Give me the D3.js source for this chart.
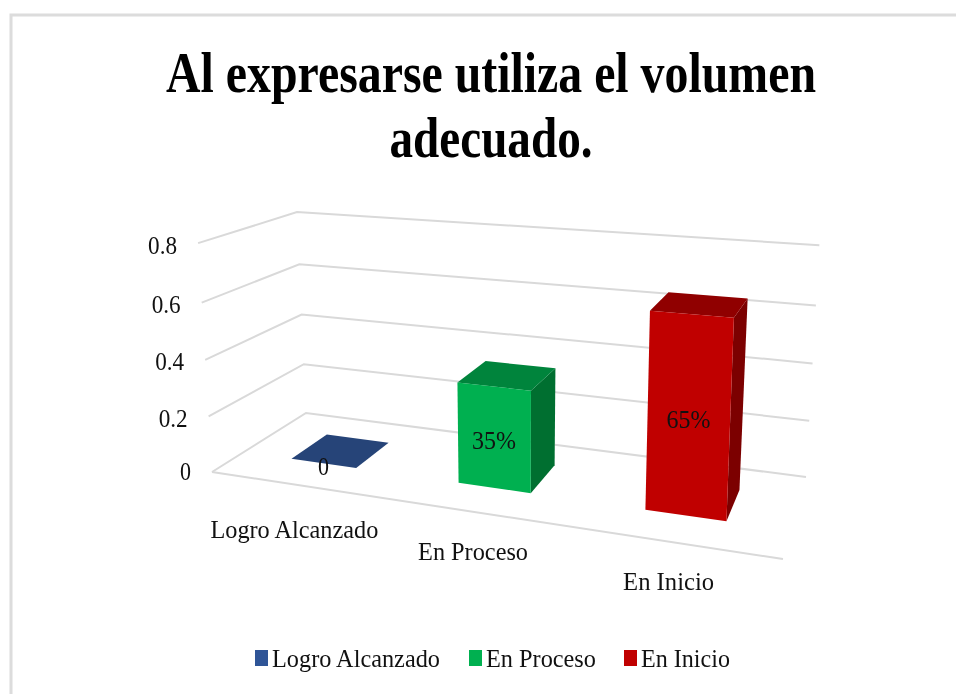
<!DOCTYPE html>
<html><head><meta charset="utf-8">
<script src="https://cdn.jsdelivr.net/npm/d3@7"></script>
<style>html,body{margin:0;padding:0;background:#fff}svg{display:block;filter:blur(0.45px)}text{font-family:"Liberation Serif","Times New Roman",serif;fill:#111}</style>
</head><body><div id="c"></div>
<script>
const categories = ["Logro Alcanzado","En Proceso","En Inicio"];
const values = [0,0.35,0.65];
const labels = ["0","35%","65%"];
const ticks = [0,0.2,0.4,0.6,0.8];
const tickLabels = ["0","0.2","0.4","0.6","0.8"];
const titleLines = ["Al expresarse utiliza el volumen","adecuado."];
const W=956,H=694;
const svg=d3.select("#c").append("svg").attr("width",W).attr("height",H);
svg.append("rect").attr("width",W).attr("height",H).attr("fill","#fff");
svg.append("path").attr("d","M11,694V15H956").attr("fill","none").attr("stroke","#dcdcdc").attr("stroke-width",3);

// projective map of unit square to the floor quad
function homography(p00,p10,p11,p01){
  const dx1=p10[0]-p11[0],dx2=p01[0]-p11[0],sx=p00[0]-p10[0]+p11[0]-p01[0];
  const dy1=p10[1]-p11[1],dy2=p01[1]-p11[1],sy=p00[1]-p10[1]+p11[1]-p01[1];
  const den=dx1*dy2-dx2*dy1;
  const g=(sx*dy2-dx2*sy)/den,h=(dx1*sy-sx*dy1)/den;
  const a=p10[0]-p00[0]+g*p10[0],b=p01[0]-p00[0]+h*p01[0],c=p00[0];
  const d=p10[1]-p00[1]+g*p10[1],e=p01[1]-p00[1]+h*p01[1],f=p00[1];
  return (u,z)=>{const w=g*u+h*z+1;return [(a*u+b*z+c)/w,(d*u+e*z+f)/w];};
}
const floor=homography([212,472],[783,559],[806,477],[306,413]);
const yScale=d3.scaleLinear().domain([0,0.2,0.4,0.6,0.8]).range([0,0.243,0.49,0.74,1]);
const xBand=d3.scaleBand().domain(categories).range([0,1]).paddingInner(0.6).paddingOuter(0.305);
const zBand=d3.scaleBand().domain(["s"]).range([0.02,1]).padding(0.42);
// a point of the 3D box: floor position plus a vertical lift that grows toward the viewer
function P(u,z,v){
  const a=floor(u,z),t=yScale(v);
  return [a[0]+t*(0.046*a[0]-0.01*a[1]-18.95), a[1]+t*(-0.001*a[0]-0.476*a[1]-4)];
}
const line=d3.line();

ticks.forEach(t=>{
  svg.append("path").attr("d",line([P(0,0,t),P(0,1,t),P(1,1,t)])).attr("fill","none").attr("stroke","#d9d9d9").attr("stroke-width",2);
});
svg.append("path").attr("d",line([P(0,0,0),P(1,0,0)])).attr("fill","none").attr("stroke","#d9d9d9").attr("stroke-width",2);

// text placed at a fixed width by a horizontal scale (the reference type is condensed)
function fit(x,y,s,size,width,anchor,bold){
  const t=svg.append("text").attr("font-size",size).attr("text-anchor",anchor).text(s);
  if(bold) t.attr("font-weight","bold").style("fill","#000");
  const sx=width/t.node().getComputedTextLength();
  t.attr("transform",`translate(${x},${y}) scale(${sx},1)`);
  return t;
}

ticks.forEach((t,i)=>{
  const p=P(0,0,t);
  fit(p[0]-21,p[1]+(t>0?10.5:8),tickLabels[i],26,tickLabels[i].length>1?29:11,"end");
});

const fills=[
 {front:"#2f5597",top:"#264478",side:"#1f3864"},
 {front:"#00b050",top:"#00843c",side:"#006f30"},
 {front:"#c00000",top:"#900000",side:"#7c0000"}];
categories.forEach((c,i)=>{
  const u0=xBand(c),u1=u0+xBand.bandwidth(),z0=zBand("s"),z1=z0+zBand.bandwidth(),v=values[i];
  const g=svg.append("g");
  if(v>0) g.append("path").attr("d",line([P(u1,z0,0),P(u1,z1,0),P(u1,z1,v),P(u1,z0,v)])+"Z").attr("fill",fills[i].side);
  g.append("path").attr("d",line([P(u0,z0,v),P(u1,z0,v),P(u1,z1,v),P(u0,z1,v)])+"Z").attr("fill",fills[i].top);
  if(v>0) g.append("path").attr("d",line([P(u0,z0,0),P(u1,z0,0),P(u1,z0,v),P(u0,z0,v)])+"Z").attr("fill",fills[i].front);
  const m=P((u0+u1)/2,z0,v/2);
  fit(m[0],m[1]+11.5,labels[i],26,labels[i].length>1?44:11,"middle");
});

const catW=[168,110,91], catDx=[0,1,-3.5], catDy=[53,48,48];
categories.forEach((c,i)=>{
  const p=floor(xBand(c)+xBand.bandwidth()/2,0);
  fit(p[0]+catDx[i],p[1]+catDy[i],c,26,catW[i],"middle");
});

const legX=[255,469,624], legW=[168,110,89];
categories.forEach((c,i)=>{
  svg.append("rect").attr("x",legX[i]).attr("y",650).attr("width",13).attr("height",16).attr("fill",fills[i].front);
  fit(legX[i]+17,667,c,26,legW[i],"start");
});

const titleW=[650,203], titleY=[92,157];
titleLines.forEach((s,i)=>{ fit(491,titleY[i],s,57,titleW[i],"middle",true); });
</script></body></html>
